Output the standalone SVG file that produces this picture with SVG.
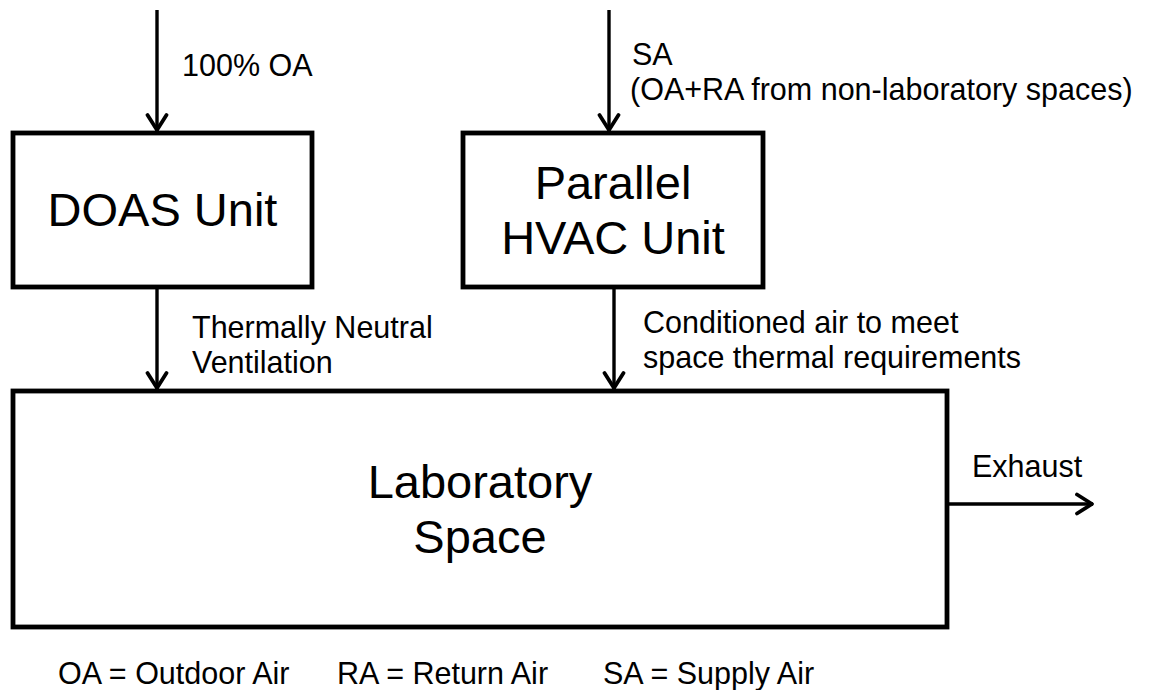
<svg xmlns="http://www.w3.org/2000/svg" width="1151" height="690" viewBox="0 0 1151 690">
<style>
.box{fill:#fff;stroke:#000;stroke-width:4.8}
.big{font-family:"Liberation Sans",Arial,sans-serif;font-size:47px;fill:#000;text-anchor:middle}
.lbl{font-family:"Liberation Sans",Arial,sans-serif;font-size:30.5px;fill:#000}
.conn{stroke:#000;stroke-width:3.4;fill:none}
</style>
<defs>
<marker id="arr" markerUnits="userSpaceOnUse" viewBox="-20 -12 24 24" refX="0" refY="0" markerWidth="24" markerHeight="24" orient="auto">
<path d="M-16,-9.5 L-1,0 L-16,9.5" fill="none" stroke="#000" stroke-width="3.8" stroke-linecap="round" stroke-linejoin="round"/>
</marker>
</defs>
<rect width="1151" height="690" fill="#fff"/>
<g id="connectors">
<line class="conn" x1="157" y1="10" x2="157" y2="131" marker-end="url(#arr)"/>
<line class="conn" x1="609" y1="10" x2="609" y2="131" marker-end="url(#arr)"/>
<line class="conn" x1="157" y1="287" x2="157" y2="389" marker-end="url(#arr)"/>
<line class="conn" x1="614" y1="287" x2="614" y2="389" marker-end="url(#arr)"/>
<line class="conn" x1="947" y1="504" x2="1093" y2="504" marker-end="url(#arr)"/>
<text class="lbl" x="182" y="76">100% OA</text>
<text class="lbl" x="632" y="65">SA</text>
<text class="lbl" x="630" y="100">(OA+RA from non-laboratory spaces)</text>
<text class="lbl" x="192" y="338">Thermally Neutral</text>
<text class="lbl" x="192" y="373">Ventilation</text>
<text class="lbl" x="643" y="333">Conditioned air to meet</text>
<text class="lbl" x="643" y="368">space thermal requirements</text>
<text class="lbl" x="972" y="477">Exhaust</text>
</g>
<g id="doas">
<rect class="box" x="13" y="133" width="299" height="154"/>
<text class="big" x="162.5" y="226">DOAS Unit</text>
</g>
<g id="hvac">
<rect class="box" x="463" y="133" width="300" height="154"/>
<text class="big" x="613" y="199">Parallel</text>
<text class="big" x="613" y="254">HVAC Unit</text>
</g>
<g id="lab">
<rect class="box" x="13" y="391" width="934" height="236"/>
<text class="big" x="480" y="498">Laboratory</text>
<text class="big" x="480" y="553">Space</text>
</g>
<g id="legend">
<text class="lbl" x="58" y="684">OA = Outdoor Air</text>
<text class="lbl" x="337" y="684">RA = Return Air</text>
<text class="lbl" x="603" y="684">SA = Supply Air</text>
</g>
</svg>
